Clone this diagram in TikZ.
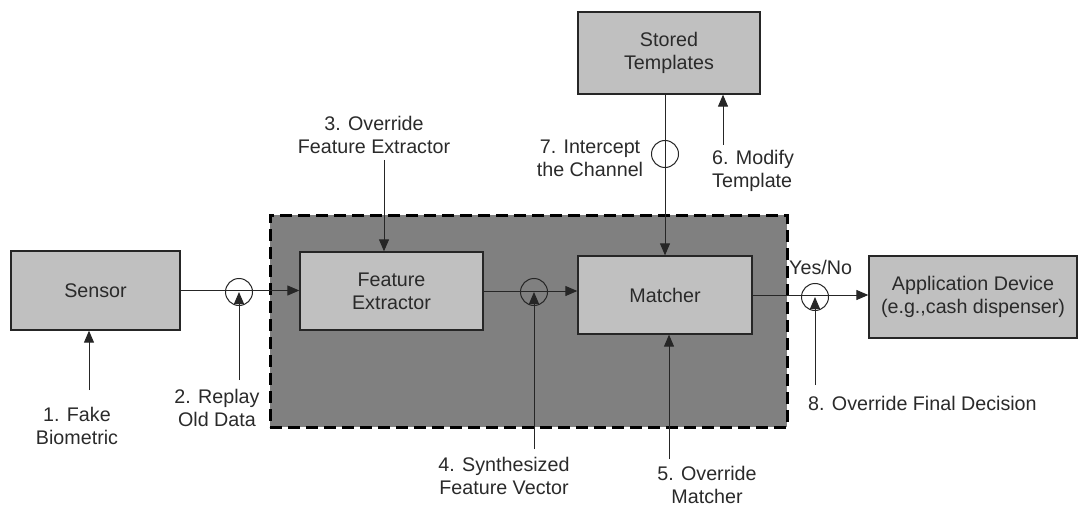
\documentclass[tikz,border=0pt]{standalone}
\usepackage{fontspec}
\setmainfont{Liberation Sans}
\usetikzlibrary{arrows.meta}
\definecolor{boxgray}{HTML}{C0C0C0}
\definecolor{darkzone}{HTML}{808080}
\definecolor{txt}{HTML}{2A2A2A}
\begin{document}
\begin{tikzpicture}[x=1pt,y=-1pt,
  lbl/.style={font=\fontsize{19.7}{23}\selectfont, text=txt, align=center, inner sep=0pt},
  blk/.style={draw=black!85, line width=1.3pt, fill=boxgray, font=\fontsize{19.7}{23}\selectfont, text=txt, align=center, inner sep=0pt, anchor=center},
  conn/.style={line width=1pt, draw=black!85},
  arr/.style={conn, -{Triangle[length=12pt,width=10pt]}},
  attack/.style={circle, draw=black!85, line width=1pt, minimum size=27pt, inner sep=0pt}]
\useasboundingbox (0,0) rectangle (1079,508);
% protected zone
\node[draw=black, fill=darkzone, line width=3pt, dash pattern=on 12pt off 6pt, minimum width=517pt, minimum height=212pt, inner sep=0pt] (zone) at (528.5,321) {};
% blocks
\node[blk, minimum width=169pt, minimum height=79pt] (sensor) at (95.5,290.5) {Sensor};
\node[blk, minimum width=183pt, minimum height=78pt] (fe) at (391.5,291) {Feature\\Extractor};
\node[blk, minimum width=174pt, minimum height=78pt] (matcher) at (665,295) {Matcher};
\node[blk, minimum width=182pt, minimum height=82pt] (stored) at (669,53) {Stored\\Templates};
\node[blk, minimum width=208pt, minimum height=82pt] (app) at (973,297) {Application Device\\(e.g.,cash dispenser)};
% main connectors
\draw[arr] (sensor.east) -- (sensor.east -| fe.west);
\draw[arr] (fe.east) -- (fe.east -| matcher.west);
\draw[arr] (matcher.east) -- (matcher.east -| app.west);
\draw[arr] (stored.south -| matcher.north) -- (matcher.north);
% attack points
\node[attack] (c2) at (239,292) {};
\node[attack] (c4) at (534,292) {};
\node[attack] (c7) at (665,154) {};
\node[attack] (c8) at (815,297) {};
% attack arrows
\coordinate (a1) at (89,390);
\coordinate (a2) at (239,380);
\coordinate (a3) at (384,160);
\coordinate (a4) at (534,449);
\coordinate (a5) at (669,459);
\coordinate (a6) at (723,145);
\coordinate (a8) at (815,385);
\draw[arr] (a1) -- (a1 |- sensor.south);
\draw[arr] (a2) -- (c2.center);
\draw[arr] (a3) -- (a3 |- fe.north);
\draw[arr] (a4) -- (c4.center);
\draw[arr] (a5) -- (a5 |- matcher.south);
\draw[arr] (a6) -- (a6 |- stored.south);
\draw[arr] (a8) -- (c8.center);
% labels
\node[lbl] (l1) at (77,426) {1. Fake\\Biometric};
\node[lbl] (l2) at (217,407.5) {2. Replay\\Old Data};
\node[lbl] (l3) at (374,135) {3. Override\\Feature Extractor};
\node[lbl] (l4) at (504,476) {4. Synthesized\\Feature Vector};
\node[lbl] (l5) at (707,485) {5. Override\\Matcher};
\node[lbl, align=left, anchor=west] (l6) at (712,170.5) {6. Modify\\Template};
\node[lbl] (l7) at (590,158.5) {7. Intercept\\the Channel};
\node[lbl, anchor=west] (l8) at (808,403) {8. Override Final Decision};
\node[lbl, anchor=west] (yn) at (789,267) {Yes/No};
\end{tikzpicture}
\end{document}
